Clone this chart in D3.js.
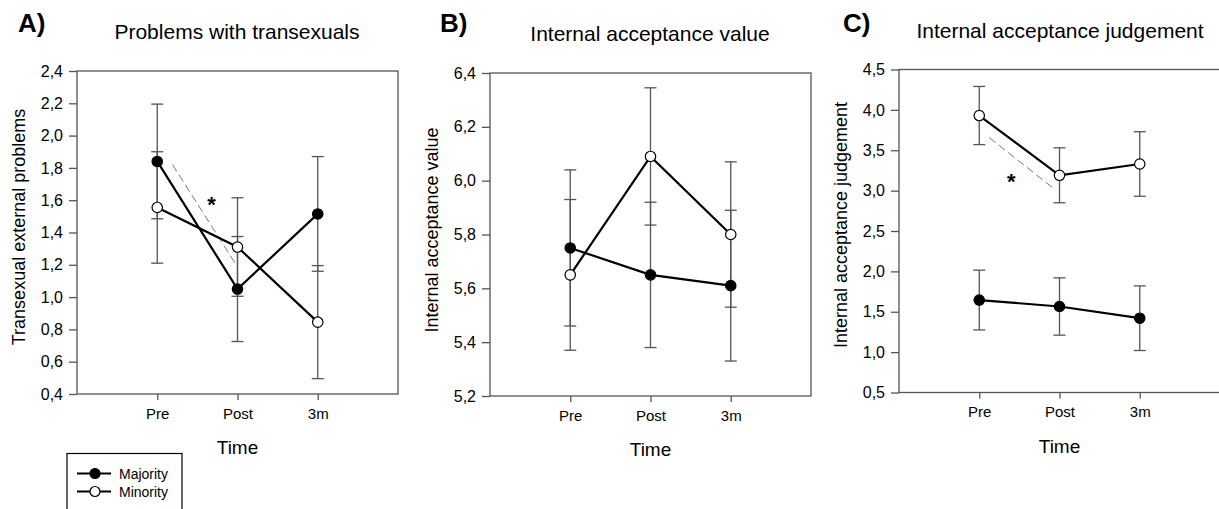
<!DOCTYPE html>
<html>
<head>
<meta charset="utf-8">
<script src="https://cdn.jsdelivr.net/npm/d3@7"></script>
<style>
  body { margin: 0; background: #fff; }
  svg text { font-family: "Liberation Sans", Arial, sans-serif; fill: #000; }
</style>
</head>
<body>
<div id="chart"></div>
<script>
// time points on the x axis
let times = ["Pre", "Post", "3m"];

// panel A - problems with transexuals
let majorityA = [1.84, 1.05, 1.515];
let majorityErrA = [0.355, 0.325, 0.355];
let minorityA = [1.555, 1.31, 0.845];
let minorityErrA = [0.345, 0.305, 0.35];
let ticksA = [0.4, 0.6, 0.8, 1.0, 1.2, 1.4, 1.6, 1.8, 2.0, 2.2, 2.4];

// panel B - internal acceptance value
let majorityB = [5.75, 5.65, 5.61];
let majorityErrB = [0.29, 0.27, 0.28];
let minorityB = [5.65, 6.09, 5.80];
let minorityErrB = [0.28, 0.255, 0.27];
let ticksB = [5.2, 5.4, 5.6, 5.8, 6.0, 6.2, 6.4];

// panel C - internal acceptance judgement
let majorityC = [1.645, 1.565, 1.42];
let majorityErrC = [0.37, 0.355, 0.40];
let minorityC = [3.93, 3.19, 3.33];
let minorityErrC = [0.36, 0.34, 0.40];
let ticksC = [0.5, 1.0, 1.5, 2.0, 2.5, 3.0, 3.5, 4.0, 4.5];

let letters = ["A)", "B)", "C)"];
let titles = ["Problems with transexuals", "Internal acceptance value", "Internal acceptance judgement"];
let yLabels = ["Transexual external problems", "Internal acceptance value", "Internal acceptance judgement"];
let xLabel = "Time";
let legendLabels = ["Majority", "Minority"];

// significance marks (dashed line + star), in data coords (x index 1..3)
let sigA = {x1: 1.19, y1: 1.82, x2: 1.99, y2: 1.195, sx: 1.675, sy: 1.60};
let sigC = {x1: 1.125, y1: 3.656, x2: 1.915, y2: 3.036, sx: 1.40, sy: 3.17};

let comma = d3.formatLocale({decimal: ",", thousands: ".", grouping: [3], currency: ["", ""]}).format(".1f");

let panels = [
    {left: 77, top: 71, ticks: ticksA, maj: majorityA, majErr: majorityErrA, min: minorityA, minErr: minorityErrA, sig: sigA,
     titleX: 237, titleY: 39, letterX: 18, labelCy: 227},
    {left: 490, top: 73, ticks: ticksB, maj: majorityB, majErr: majorityErrB, min: minorityB, minErr: minorityErrB, sig: null,
     titleX: 650, titleY: 41, letterX: 440, labelCy: 230},
    {left: 899, top: 69.5, ticks: ticksC, maj: majorityC, majErr: majorityErrC, min: minorityC, minErr: minorityErrC, sig: sigC,
     titleX: 1060, titleY: 38, letterX: 843, labelCy: 225}
];

let width = 1219;
let height = 509;
let pw = 321;
let ph = 323;

let svg = d3.select('#chart').append('svg')
            .attr('width', width)
            .attr('height', height);

panels.forEach((p, i) => {
    let x = d3.scaleLinear().domain([0, 4]).range([p.left, p.left + pw]);
    let y = d3.scaleLinear().domain(d3.extent(p.ticks)).range([p.top + ph, p.top]);

    let g = svg.append('g');

    // frame
    g.append('rect')
        .attr('x', p.left).attr('y', p.top)
        .attr('width', pw).attr('height', ph)
        .attr('fill', 'none')
        .attr('stroke', '#555')
        .attr('stroke-width', 1.3);

    // y axis
    let yAxis = g.append('g')
        .attr('transform', `translate(${p.left},0)`)
        .call(d3.axisLeft(y).tickValues(p.ticks).tickFormat(comma).tickSize(8).tickPadding(6));
    yAxis.select('.domain').remove();
    yAxis.selectAll('line').attr('stroke', '#555').attr('stroke-width', 1.3);
    yAxis.selectAll('text').attr('font-size', 16).attr('fill', '#111');

    // x axis
    let xAxis = g.append('g')
        .attr('transform', `translate(0,${p.top + ph})`)
        .call(d3.axisBottom(x).tickValues([1, 2, 3]).tickFormat(d => times[d - 1]).tickSize(6).tickPadding(8));
    xAxis.select('.domain').remove();
    xAxis.selectAll('line').attr('stroke', '#555').attr('stroke-width', 1.3);
    xAxis.selectAll('text').attr('font-size', 15).attr('fill', '#111');

    // titles
    g.append('text')
        .attr('x', p.letterX).attr('y', 32)
        .attr('font-size', 26).attr('font-weight', 'bold')
        .text(letters[i]);
    g.append('text')
        .attr('x', p.titleX).attr('y', p.titleY)
        .attr('text-anchor', 'middle')
        .attr('font-size', 21)
        .text(titles[i]);
    g.append('text')
        .attr('transform', `translate(${p.left - 52},${p.labelCy}) rotate(-90)`)
        .attr('text-anchor', 'middle')
        .attr('font-size', 18)
        .text(yLabels[i]);
    g.append('text')
        .attr('x', x(2)).attr('y', p.top + ph + 60)
        .attr('text-anchor', 'middle')
        .attr('font-size', 19)
        .text(xLabel);

    let series = [
        {vals: p.maj, errs: p.majErr, fill: '#000'},
        {vals: p.min, errs: p.minErr, fill: '#fff'}
    ];

    // error bars
    series.forEach(s => {
        s.vals.forEach((v, j) => {
            let cx = x(j + 1);
            let lo = y(v - s.errs[j]);
            let hi = y(v + s.errs[j]);
            g.append('line').attr('x1', cx).attr('x2', cx).attr('y1', lo).attr('y2', hi)
                .attr('stroke', '#555').attr('stroke-width', 1.3);
            [lo, hi].forEach(yy => {
                g.append('line').attr('x1', cx - 6).attr('x2', cx + 6).attr('y1', yy).attr('y2', yy)
                    .attr('stroke', '#555').attr('stroke-width', 1.3);
            });
        });
    });

    // significance mark
    if (p.sig) {
        g.append('line')
            .attr('x1', x(p.sig.x1)).attr('y1', y(p.sig.y1))
            .attr('x2', x(p.sig.x2)).attr('y2', y(p.sig.y2))
            .attr('stroke', '#777').attr('stroke-width', 1)
            .attr('stroke-dasharray', '8,4');
        g.append('text')
            .attr('x', x(p.sig.sx)).attr('y', y(p.sig.sy) + 12)
            .attr('text-anchor', 'middle')
            .attr('font-size', 22).attr('font-weight', 'bold')
            .text('*');
    }

    let line = d3.line().x((d, j) => x(j + 1)).y(d => y(d));

    series.forEach(s => {
        g.append('path')
            .attr('d', line(s.vals))
            .attr('fill', 'none')
            .attr('stroke', '#000')
            .attr('stroke-width', 2.2);
    });
    series.forEach(s => {
        g.selectAll(null).data(s.vals).join('circle')
            .attr('cx', (d, j) => x(j + 1))
            .attr('cy', d => y(d))
            .attr('r', 5.2)
            .attr('fill', s.fill)
            .attr('stroke', '#000')
            .attr('stroke-width', 1.2);
    });
});

// legend
let leg = svg.append('g');
leg.append('rect')
    .attr('x', 67).attr('y', 453.5)
    .attr('width', 115).attr('height', 70)
    .attr('fill', '#fff').attr('stroke', '#000').attr('stroke-width', 1.2);
legendLabels.forEach((lab, i) => {
    let ly = 473.5 + i * 18;
    leg.append('line').attr('x1', 77).attr('x2', 111).attr('y1', ly).attr('y2', ly)
        .attr('stroke', '#000').attr('stroke-width', 2);
    leg.append('circle').attr('cx', 95).attr('cy', ly).attr('r', 5)
        .attr('fill', i === 0 ? '#000' : '#fff').attr('stroke', '#000').attr('stroke-width', 1.2);
    leg.append('text').attr('x', 119).attr('y', ly + 5)
        .attr('font-size', 14).text(lab);
});
</script>
</body>
</html>
